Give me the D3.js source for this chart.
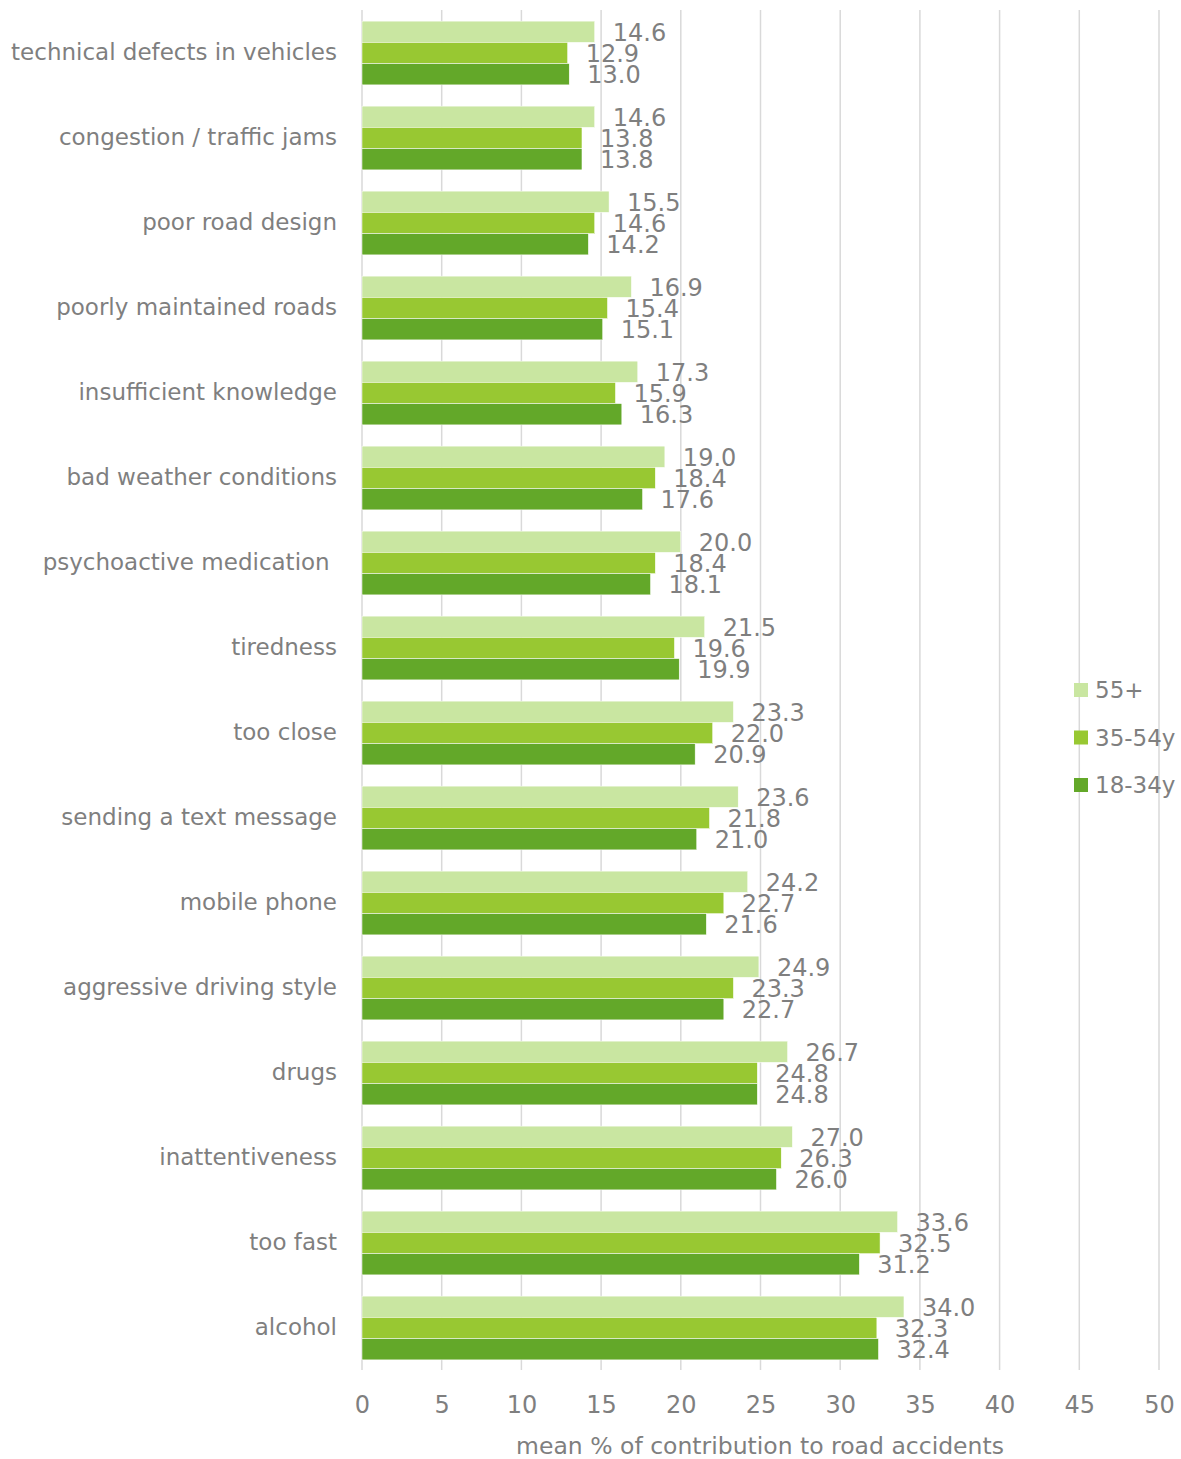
<!DOCTYPE html>
<html>
<head>
<meta charset="utf-8">
<script src="https://cdn.jsdelivr.net/npm/d3@7"></script>
<style>
  body { margin: 0; background: #fff; }
  text { font-family: "DejaVu Sans", Verdana, sans-serif; fill: #7f7f7f; }
</style>
</head>
<body>
<svg id="chart"></svg>
<script>
const categories = [
  "technical defects in vehicles",
  "congestion / traffic jams",
  "poor road design",
  "poorly maintained roads",
  "insufficient knowledge",
  "bad weather conditions",
  "psychoactive medication ",
  "tiredness",
  "too close",
  "sending a text message",
  "mobile phone",
  "aggressive driving style",
  "drugs",
  "inattentiveness",
  "too fast",
  "alcohol"
];
const seriesNames = ["55+", "35-54y", "18-34y"];
const age55 = [14.6, 14.6, 15.5, 16.9, 17.3, 19.0, 20.0, 21.5, 23.3, 23.6, 24.2, 24.9, 26.7, 27.0, 33.6, 34.0];
const age35 = [12.9, 13.8, 14.6, 15.4, 15.9, 18.4, 18.4, 19.6, 22.0, 21.8, 22.7, 23.3, 24.8, 26.3, 32.5, 32.3];
const age18 = [13.0, 13.8, 14.2, 15.1, 16.3, 17.6, 18.1, 19.9, 20.9, 21.0, 21.6, 22.7, 24.8, 26.0, 31.2, 32.4];
const xTicks = [0, 5, 10, 15, 20, 25, 30, 35, 40, 45, 50];
const colors = ["#c9e6a1", "#98c832", "#63a829"];

let width = 1181;
let height = 1459;
let svg = d3.select("#chart").attr("width", width).attr("height", height);

let seriesValues = [age55, age35, age18];
let rows = categories.map((c, i) => ({
  cat: c,
  vals: seriesValues.map((s, j) => ({ key: seriesNames[j], v: s[i], idx: j }))
}));

let x = d3.scaleLinear().domain([0, 50]).range([362, 1159]);
let y = d3.scaleBand().domain(categories).range([10.5, 1370.5]).paddingInner(0.25).paddingOuter(0.125);
let ySub = d3.scaleBand().domain(seriesNames).range([0, y.bandwidth()]);

// gridlines
svg.append("g")
  .selectAll("line")
  .data(xTicks)
  .join("line")
  .attr("x1", (d) => x(d))
  .attr("x2", (d) => x(d))
  .attr("y1", 10)
  .attr("y2", 1370)
  .style("stroke", "#d9d9d9")
  .style("stroke-width", 1.5);

// x axis labels
let xAxis = svg.append("g")
  .attr("transform", "translate(0,1390)")
  .call(d3.axisBottom(x).tickValues(xTicks).tickSize(0).tickPadding(6));
xAxis.select(".domain").remove();
xAxis.selectAll("text")
  .style("font-size", "24px")
  .style("fill", "#7f7f7f")
  .style("font-family", "DejaVu Sans");

svg.append("text")
  .attr("x", 760)
  .attr("y", 1454)
  .attr("text-anchor", "middle")
  .style("font-size", "23.5px")
  .text("mean % of contribution to road accidents");

// category labels (keep trailing space like the original)
let yAxis = svg.append("g")
  .attr("transform", "translate(362,0)")
  .call(d3.axisLeft(y).tickSize(0).tickPadding(25));
yAxis.select(".domain").remove();
yAxis.selectAll("text")
  .style("font-size", "23px")
  .style("fill", "#7f7f7f")
  .style("font-family", "DejaVu Sans")
  .style("white-space", "pre")
  .attr("dy", "0.3em");

// bars
let groups = svg.append("g")
  .selectAll("g")
  .data(rows)
  .join("g")
  .attr("transform", (d) => `translate(0,${y(d.cat)})`);

groups.selectAll("rect")
  .data((d) => d.vals)
  .join("rect")
  .attr("x", x(0))
  .attr("y", (d) => ySub(d.key))
  .attr("width", (d) => x(d.v) - x(0))
  .attr("height", ySub.bandwidth())
  .style("fill", (d) => colors[d.idx])
  .style("stroke", "#fff")
  .style("stroke-width", 0.5);

groups.selectAll("text")
  .data((d) => d.vals)
  .join("text")
  .attr("x", (d) => x(d.v) + 18)
  .attr("y", (d) => ySub(d.key) + ySub.bandwidth() / 2 + 9)
  .style("font-size", "24px")
  .text((d) => d.v.toFixed(1));

// legend
let legend = svg.append("g").attr("transform", "translate(1074,690)");
seriesNames.forEach((n, i) => {
  legend.append("rect")
    .attr("x", 0)
    .attr("y", i * 47.5 - 7)
    .attr("width", 14)
    .attr("height", 14)
    .style("fill", colors[i]);
  legend.append("text")
    .attr("x", 21)
    .attr("y", i * 47.5 + 8)
    .style("font-size", "23px")
    .text(n);
});
</script>
</body>
</html>
